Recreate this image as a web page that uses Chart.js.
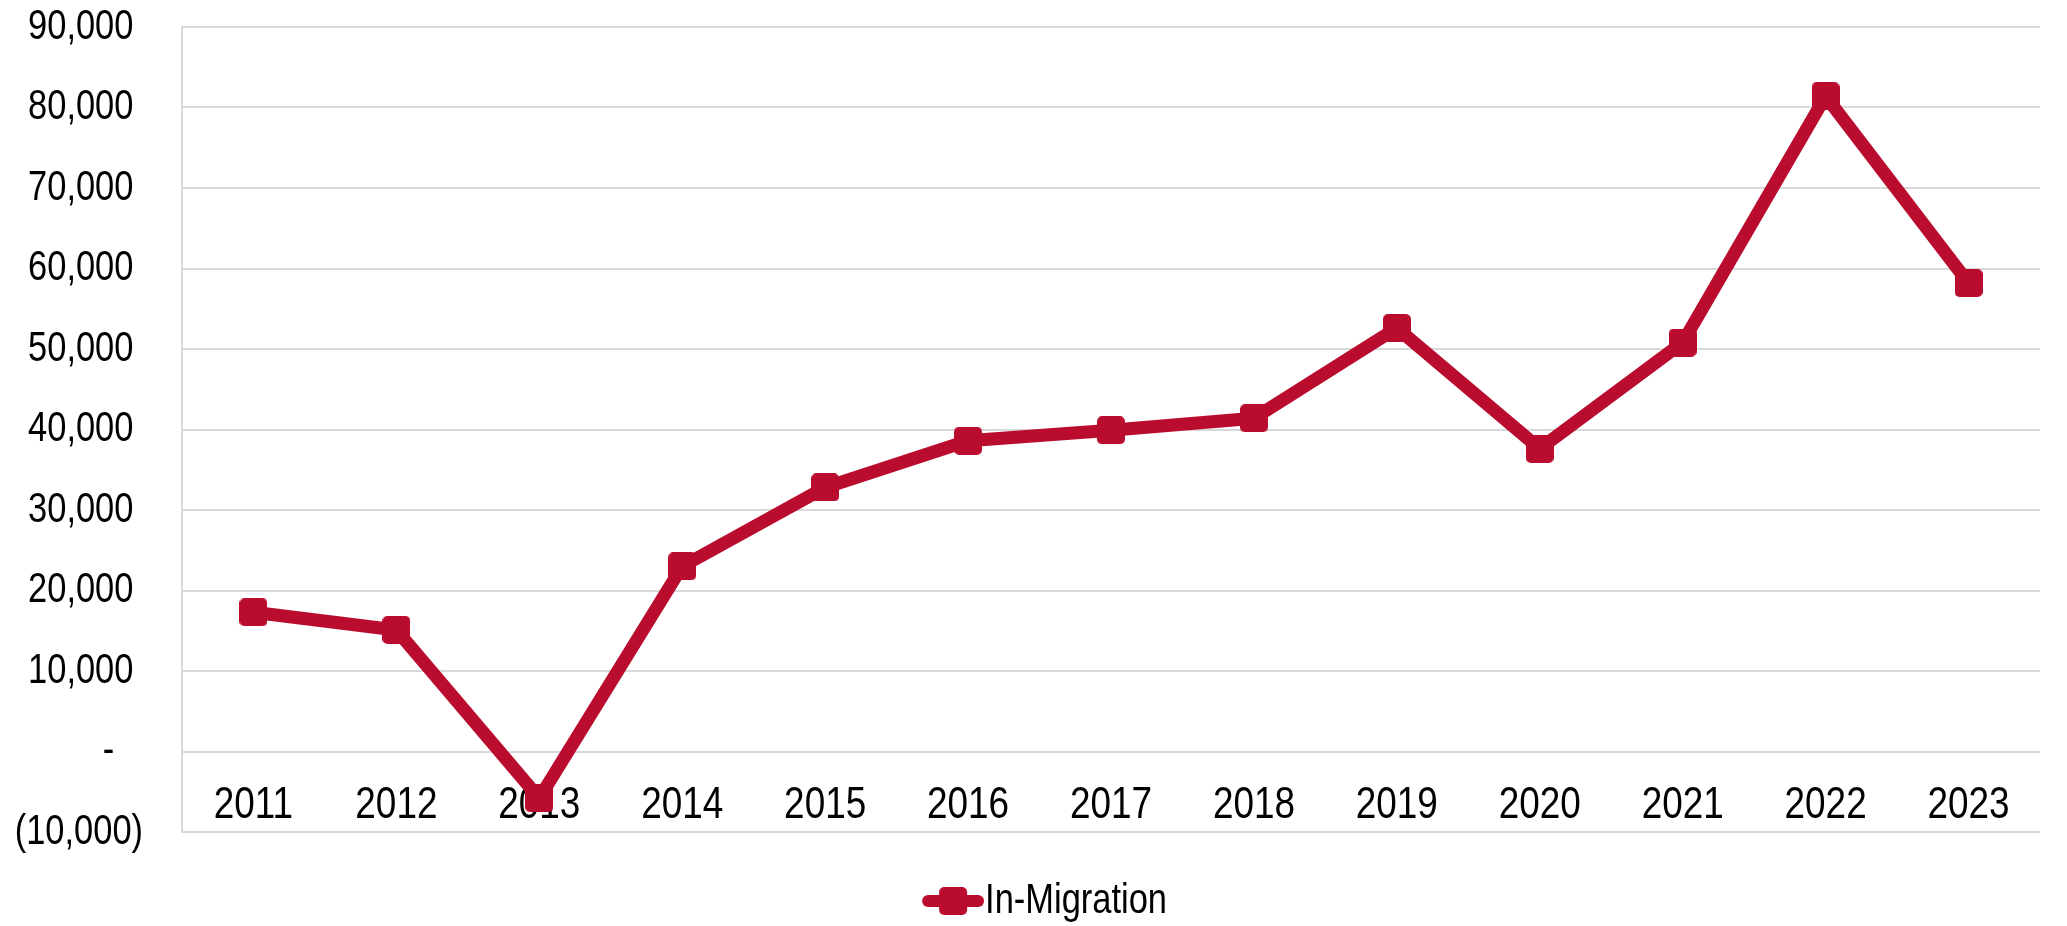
<!DOCTYPE html>
<html>
<head>
<meta charset="utf-8">
<script src="https://cdn.jsdelivr.net/npm/chart.js@4.4.1/dist/chart.umd.min.js"></script>
<style>
    body { margin: 0; background: #ffffff; }
    #wrap { width: 2067px; height: 926px; position: relative; }
</style>
</head>
<body>
<div id="wrap"><canvas id="migrationChart"></canvas></div>
<script>
// Annual in-migration
const years = ['2011', '2012', '2013', '2014', '2015', '2016', '2017', '2018', '2019', '2020', '2021', '2022', '2023'];
const inMigration = [17300, 15100, -5800, 23000, 32800, 38600, 39900, 41400, 52600, 37600, 50800, 81400, 58200];

const yMin = -10000;
const yMax = 90000;
const yStep = 10000;

const RED = '#ba0c2f';
const FONT = '"Liberation Sans", Arial, sans-serif';
const NARROW = 0.82; // squeeze text to an Arial Narrow-like width

// Rounded square marker
function makeMarker(size, r) {
    const c = document.createElement('canvas');
    c.width = size; c.height = size;
    const g = c.getContext('2d');
    g.fillStyle = RED;
    g.beginPath();
    g.roundRect(0, 0, size, size, r);
    g.fill();
    return c;
}

// Legend symbol: line with the marker in the middle, sitting at the right end of the image
function makeLegendSymbol(w, symW, h, lineW) {
    const c = document.createElement('canvas');
    c.width = w; c.height = h;
    const g = c.getContext('2d');
    const x0 = w - symW;
    g.strokeStyle = RED;
    g.lineWidth = lineW;
    g.lineCap = 'round';
    g.beginPath();
    g.moveTo(x0 + lineW / 2, h / 2);
    g.lineTo(w - lineW / 2, h / 2);
    g.stroke();
    g.fillStyle = RED;
    g.beginPath();
    g.roundRect(x0 + (symW - h) / 2, 0, h, h, 5);
    g.fill();
    return c;
}

const marker = makeMarker(28, 5);
const legendSymbol = makeLegendSymbol(144, 62, 28, 12);

function formatTick(v) {
    if (v === 0) return '-   ';
    if (v < 0) return '(' + Math.abs(v).toLocaleString('en-US') + ')';
    return v.toLocaleString('en-US') + ' ';
}

const canvas = document.getElementById('migrationChart');
const ctx = canvas.getContext('2d');
const rawFillText = ctx.fillText;
ctx.fillText = function (text, x, y, maxWidth) {
    const w = this.measureText(text).width * NARROW;
    return rawFillText.call(this, text, x, y, maxWidth ? Math.min(maxWidth, w) : w);
};

new Chart(canvas, {
    type: 'line',
    data: {
        labels: years,
        datasets: [{
            label: 'In-Migration',
            data: inMigration,
            borderColor: RED,
            backgroundColor: RED,
            borderWidth: 13,
            borderJoinStyle: 'round',
            pointStyle: marker,
            pointRadius: 14,
            pointHoverRadius: 14,
            tension: 0
        }]
    },
    options: {
        responsive: true,
        maintainAspectRatio: false,
        animation: false,
        layout: { padding: { top: 27, right: 0, left: 0, bottom: 0 } },
        plugins: {
            tooltip: { enabled: false },
            legend: {
                position: 'bottom',
                maxHeight: 94,
                labels: {
                    usePointStyle: true,
                    pointStyleWidth: 104,
                    color: '#000000',
                    padding: 48,
                    font: { family: FONT, size: 42 },
                    generateLabels: (chart) => {
                        const items = Chart.defaults.plugins.legend.labels.generateLabels(chart);
                        items.forEach(it => { it.pointStyle = legendSymbol; });
                        return items;
                    }
                }
            }
        },
        scales: {
            x: {
                position: { y: 0 },
                offset: true,
                grid: { display: false, drawTicks: false },
                border: { display: false },
                ticks: {
                    color: '#000000',
                    padding: 27,
                    maxRotation: 0,
                    autoSkip: false,
                    font: { family: FONT, size: 45 }
                },
                afterFit: (scale) => { scale.height = 0; }
            },
            y: {
                min: yMin,
                max: yMax,
                grid: { color: '#d9d9d9', lineWidth: 2, drawTicks: false },
                border: { display: true, color: '#d9d9d9', width: 2 },
                ticks: {
                    stepSize: yStep,
                    color: '#000000',
                    padding: 39,
                    font: { family: FONT, size: 42 },
                    callback: (v) => formatTick(v)
                },
                afterFit: (scale) => {
                    scale.width = 182;
                    scale.paddingTop = 0;
                    scale.paddingBottom = 0;
                }
            }
        }
    }
});
</script>
</body>
</html>
